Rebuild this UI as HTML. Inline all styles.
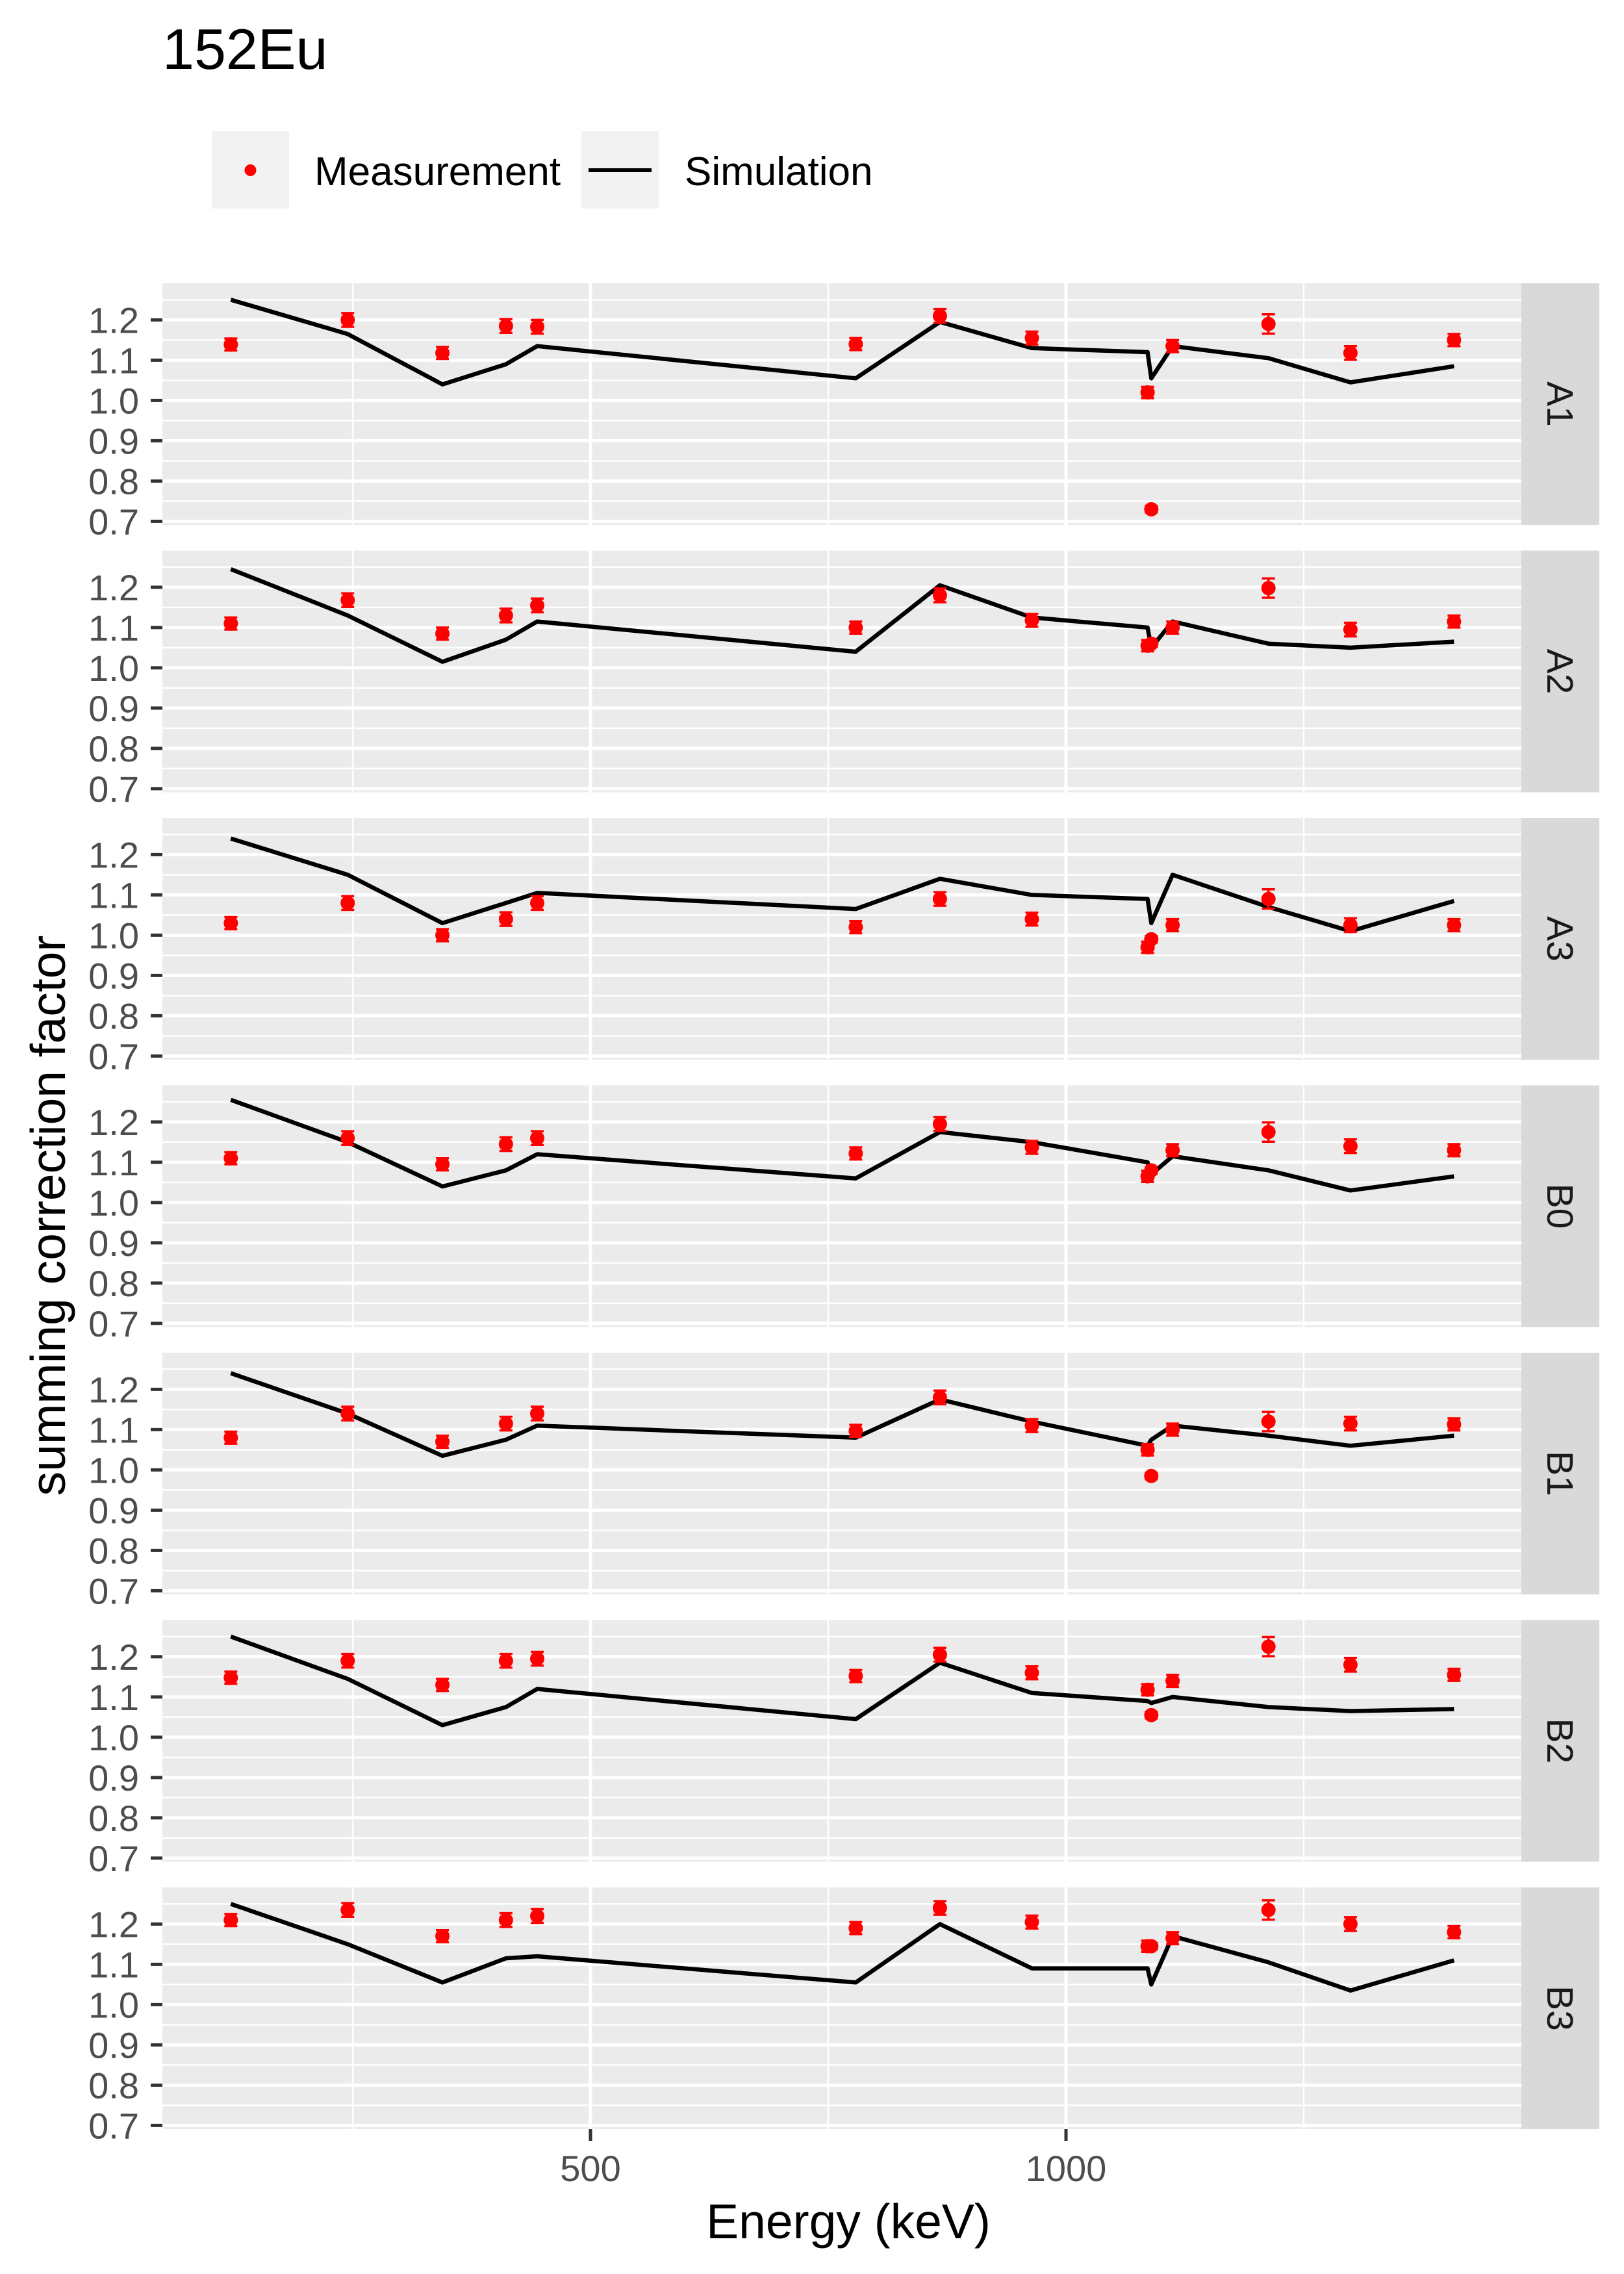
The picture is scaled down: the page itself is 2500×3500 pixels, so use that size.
<!DOCTYPE html>
<html><head><meta charset="utf-8"><style>
html,body{margin:0;padding:0;background:#fff;}
svg{display:block;font-family:"Liberation Sans",sans-serif;}
</style></head><body>
<svg id="chart" width="2500" height="3500" viewBox="0 0 2500 3500" xmlns="http://www.w3.org/2000/svg">
<text x="250" y="106" font-size="88" fill="#000">152Eu</text>
<g>
<rect x="326" y="202" width="119" height="119" fill="#f2f2f2"/>
<circle cx="385.5" cy="262" r="9" fill="#ff0000"/>
<text x="484" y="285" font-size="62" fill="#000">Measurement</text>
<rect x="895" y="202" width="119" height="119" fill="#f2f2f2"/>
<line x1="906" y1="262" x2="1003" y2="262" stroke="#000" stroke-width="6"/>
<text x="1054" y="285" font-size="62" fill="#000">Simulation</text>
</g>
<text transform="translate(100,1871) rotate(-90)" text-anchor="middle" font-size="75" fill="#000">summing correction factor</text>
<text x="1306" y="3445" text-anchor="middle" font-size="75" fill="#000">Energy (keV)</text>
<g id="panels"></g>
</svg>
<script>
const energies = [121.8, 244.7, 344.3, 411.1, 444.0, 778.9, 867.4, 964.1, 1085.8, 1089.7, 1112.1, 1212.9, 1299.1, 1408.0];
const panelNames = ["A1","A2","A3","B0","B1","B2","B3"];
const measA1 = [1.139,1.200,1.118,1.185,1.183,1.140,1.210,1.155,1.020,0.730,1.135,1.190,1.118,1.150];
const measA2 = [1.110,1.168,1.085,1.130,1.155,1.100,1.180,1.118,1.055,1.060,1.100,1.198,1.095,1.115];
const measA3 = [1.030,1.080,1.000,1.040,1.080,1.020,1.090,1.040,0.970,0.990,1.025,1.090,1.025,1.025];
const measB0 = [1.110,1.160,1.095,1.145,1.160,1.122,1.195,1.137,1.065,1.080,1.130,1.175,1.140,1.130];
const measB1 = [1.080,1.140,1.070,1.115,1.140,1.097,1.180,1.110,1.050,0.985,1.100,1.120,1.115,1.113];
const measB2 = [1.148,1.190,1.130,1.190,1.195,1.152,1.205,1.160,1.118,1.055,1.140,1.225,1.180,1.155];
const measB3 = [1.210,1.235,1.170,1.210,1.220,1.190,1.240,1.205,1.145,1.145,1.165,1.235,1.200,1.180];
const errA1 = [0.015,0.017,0.015,0.017,0.017,0.015,0.017,0.016,0.014,0.008,0.015,0.024,0.017,0.015];
const simA1 = [1.250,1.165,1.040,1.090,1.135,1.055,1.195,1.130,1.120,1.055,1.135,1.105,1.045,1.085];
const simA2 = [1.245,1.130,1.015,1.070,1.115,1.040,1.205,1.125,1.100,1.050,1.115,1.060,1.050,1.065];
const simA3 = [1.240,1.150,1.030,1.080,1.105,1.065,1.140,1.100,1.090,1.030,1.150,1.070,1.010,1.085];
const simB0 = [1.255,1.150,1.040,1.080,1.120,1.060,1.175,1.150,1.100,1.070,1.115,1.080,1.030,1.065];
const simB1 = [1.240,1.140,1.035,1.075,1.110,1.080,1.175,1.120,1.060,1.075,1.110,1.085,1.060,1.085];
const simB2 = [1.250,1.145,1.030,1.075,1.120,1.045,1.185,1.110,1.090,1.085,1.100,1.075,1.065,1.070];
const simB3 = [1.250,1.150,1.055,1.115,1.120,1.055,1.200,1.090,1.090,1.050,1.170,1.105,1.035,1.110];
const yTicks = [0.7,0.8,0.9,1.0,1.1,1.2];
const yTickLabels = ["0.7","0.8","0.9","1.0","1.1","1.2"];
const xTicks = [500,1000];
const xMinor = [250,750,1250];
const xTickLabels = ["500","1000"];

const meas = [measA1,measA2,measA3,measB0,measB1,measB2,measB3];
const sims = [simA1,simA2,simA3,simB0,simB1,simB2,simB3];
const NS = "http://www.w3.org/2000/svg";
const L = 250, R = 2342, TOP0 = 436, PH = 372, PITCH = 411.5;
const X0 = 177, XK = 1.464;
const YMIN = 0.691, YMAX = 1.291;
function xs(e){ return X0 + e*XK; }
function ys(v, top){ return top + (YMAX - v)/(YMAX - YMIN)*PH; }
function mk(tag, attrs, parent){
  const el = document.createElementNS(NS, tag);
  for (const k in attrs) el.setAttribute(k, attrs[k]);
  parent.appendChild(el);
  return el;
}
const root = document.getElementById('panels');
panelNames.forEach((name, p) => {
  const top = TOP0 + p*PITCH;
  const g = mk('g', {}, root);
  
  
  const bg = mk('rect', {x:L, y:top, width:R-L, height:PH, fill:'#ebebeb'}, g);
  
  
  for (let i=0;i<yTicks.length;i++){
    const v = yTicks[i] + 0.05;
    if (v < YMAX) mk('line', {x1:L, x2:R, y1:ys(v,top), y2:ys(v,top), stroke:'#fff', 'stroke-width':2.5}, g);
  }
  mk('line', {x1:L, x2:R, y1:ys(0.65,top), y2:ys(0.65,top), stroke:'#fff', 'stroke-width':2.5}, g);
  xMinor.forEach(e => mk('line', {x1:xs(e), x2:xs(e), y1:top, y2:top+PH, stroke:'#fff', 'stroke-width':2.5}, g));
  yTicks.forEach((v,i) => {
    mk('line', {x1:L, x2:R, y1:ys(v,top), y2:ys(v,top), stroke:'#fff', 'stroke-width':5}, g);
    mk('line', {x1:L-18, x2:L, y1:ys(v,top), y2:ys(v,top), stroke:'#333', 'stroke-width':5}, g);
    const t = mk('text', {x:L-36, y:ys(v,top)+20, 'text-anchor':'end', 'font-size':56, fill:'#4d4d4d'}, g);
    
    
    t.textContent = yTickLabels[i];
  });
  xTicks.forEach(e => mk('line', {x1:xs(e), x2:xs(e), y1:top, y2:top+PH, stroke:'#fff', 'stroke-width':5}, g));
  const st = mk('rect', {x:R, y:top, width:120, height:PH, fill:'#d9d9d9'}, g);
  
  
  const stt = mk('text', {transform:'translate(' + (R+40) + ',' + (top+PH/2) + ') rotate(90)', 'text-anchor':'middle', 'font-size':57, fill:'#1a1a1a'}, g);
  
  
  stt.textContent = name;
  const pts = energies.map((e,i) => xs(e).toFixed(1) + ',' + ys(sims[p][i],top).toFixed(1)).join(' ');
  const pl = mk('polyline', {points:pts, fill:'none', stroke:'#000', 'stroke-width':6.5, 'stroke-linejoin':'round'}, g);
  
  
  energies.forEach((e,i) => {
    const v = meas[p][i], er = errA1[i];
    const x = xs(e);
    const y1 = ys(v+er,top), y2 = ys(v-er,top);
    mk('line', {x1:x, x2:x, y1:y1, y2:y2, stroke:'#ff0000', 'stroke-width':3.5}, g);
    mk('line', {x1:x-10, x2:x+10, y1:y1, y2:y1, stroke:'#ff0000', 'stroke-width':3.5}, g);
    mk('line', {x1:x-10, x2:x+10, y1:y2, y2:y2, stroke:'#ff0000', 'stroke-width':3.5}, g);
    const c = mk('circle', {cx:x, cy:ys(v,top), r:11, fill:'#ff0000'}, g);
    
    
  });
  if (p === panelNames.length-1){
    xTicks.forEach((e,i) => {
      mk('line', {x1:xs(e), x2:xs(e), y1:top+PH, y2:top+PH+18, stroke:'#333', 'stroke-width':5}, g);
      const t = mk('text', {x:xs(e), y:3357, 'text-anchor':'middle', 'font-size':56, fill:'#4d4d4d'}, g);
      
      
      t.textContent = xTickLabels[i];
    });
  }
});
</script>
</body></html>
